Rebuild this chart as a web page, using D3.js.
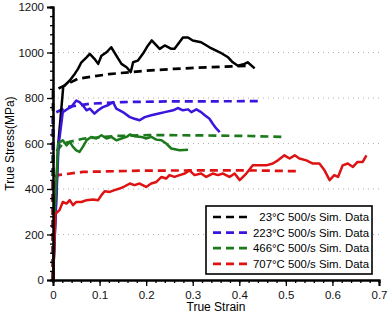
<!DOCTYPE html>
<html>
<head>
<meta charset="utf-8">
<script src="https://cdn.jsdelivr.net/npm/d3@7"></script>
<style>
  body { margin: 0; background: #fff; }
  text { font-family: "Liberation Sans", Arial, sans-serif; }
</style>
</head>
<body>
<svg id="chart"></svg>
<script>
// experimental curves [strain, stress]
const exp23 = [[0, 0], [0.011, 590], [0.022, 850], [0.025, 855], [0.036, 877], [0.047, 907], [0.054, 929], [0.061, 957], [0.072, 979], [0.079, 994], [0.089, 972], [0.097, 950], [0.104, 986], [0.115, 1001], [0.125, 1023], [0.136, 986], [0.147, 950], [0.158, 935], [0.167, 914], [0.172, 957], [0.182, 964], [0.193, 994], [0.204, 1031], [0.212, 1053], [0.229, 1016], [0.240, 1031], [0.254, 1016], [0.261, 1016], [0.279, 1066], [0.290, 1066], [0.300, 1053], [0.318, 1045], [0.336, 1023], [0.358, 1001], [0.376, 979], [0.386, 957], [0.397, 942], [0.411, 950], [0.418, 957], [0.433, 930]];
const exp223 = [[0, 0], [0.006, 300], [0.012, 592], [0.021, 738], [0.032, 753], [0.039, 760], [0.050, 789], [0.057, 782], [0.064, 768], [0.072, 746], [0.079, 753], [0.089, 731], [0.097, 746], [0.107, 760], [0.118, 768], [0.129, 782], [0.136, 753], [0.150, 738], [0.165, 716], [0.175, 709], [0.186, 702], [0.197, 716], [0.211, 724], [0.225, 731], [0.240, 738], [0.258, 746], [0.268, 756], [0.279, 746], [0.290, 750], [0.297, 738], [0.308, 750], [0.318, 738], [0.326, 724], [0.336, 709], [0.343, 687], [0.351, 665], [0.358, 650]];
const exp466 = [[0, 0], [0.004, 300], [0.011, 600], [0.021, 614], [0.029, 592], [0.036, 607], [0.043, 585], [0.050, 570], [0.057, 563], [0.064, 585], [0.072, 614], [0.082, 629], [0.093, 622], [0.104, 636], [0.115, 622], [0.125, 629], [0.136, 614], [0.147, 622], [0.158, 629], [0.165, 640], [0.175, 632], [0.190, 629], [0.200, 622], [0.211, 629], [0.222, 617], [0.233, 614], [0.243, 600], [0.254, 578], [0.272, 570], [0.290, 573]];
const exp707 = [[0, 0], [0.005, 290], [0.014, 307], [0.021, 343], [0.029, 336], [0.036, 351], [0.043, 329], [0.050, 343], [0.061, 343], [0.072, 351], [0.086, 354], [0.097, 351], [0.104, 373], [0.111, 390], [0.122, 387], [0.132, 395], [0.143, 402], [0.154, 412], [0.165, 424], [0.175, 417], [0.186, 424], [0.200, 409], [0.211, 424], [0.222, 431], [0.233, 453], [0.243, 446], [0.250, 461], [0.261, 453], [0.272, 461], [0.283, 468], [0.293, 482], [0.304, 461], [0.318, 468], [0.329, 453], [0.343, 468], [0.354, 461], [0.365, 468], [0.379, 453], [0.390, 468], [0.401, 439], [0.415, 468], [0.429, 504], [0.444, 504], [0.458, 504], [0.472, 512], [0.483, 526], [0.497, 548], [0.508, 534], [0.519, 548], [0.529, 534], [0.544, 526], [0.558, 512], [0.572, 512], [0.583, 482], [0.594, 439], [0.604, 461], [0.612, 453], [0.622, 504], [0.633, 512], [0.644, 497], [0.654, 519], [0.665, 519], [0.673, 548]];
// simulation curves [strain, stress]
const sim23 = [[0, 0], [0, 830], [0.02, 850], [0.054, 885], [0.12, 905], [0.2, 920], [0.26, 928], [0.33, 935], [0.42, 942]];
const sim223 = [[0, 0], [0, 720], [0.005, 735], [0.03, 760], [0.08, 775], [0.15, 782], [0.25, 785], [0.44, 786]];
const sim466 = [[0, 0], [0, 540], [0.004, 557], [0.021, 600], [0.064, 621], [0.136, 633], [0.207, 637], [0.3, 636], [0.422, 633], [0.494, 629]];
const sim707 = [[0, 0], [0, 450], [0.011, 461], [0.064, 475], [0.2, 481], [0.42, 482], [0.53, 478]];

const colors = ["#000000", "#3b14de", "#1c7a1c", "#de1212"];
const legendLabels = ["23°C 500/s Sim. Data", "223°C 500/s Sim. Data", "466°C 500/s Sim. Data", "707°C 500/s Sim. Data"];
const expSeries = [exp23, exp223, exp466, exp707];
const simSeries = [sim23, sim223, sim466, sim707];
const xTicks = [0, 0.1, 0.2, 0.3, 0.4, 0.5, 0.6, 0.7];
const yTicks = [0, 200, 400, 600, 800, 1000, 1200];
const gridValues = [200, 400, 600, 800, 1000];

const width = 388;
const height = 317;
const margin = { left: 53, right: 9, top: 7, bottom: 37 };

const svg = d3.select("#chart")
    .attr("width", width)
    .attr("height", height);

const x = d3.scaleLinear()
    .domain([0, 0.7])
    .range([margin.left, width - margin.right]);
const y = d3.scaleLinear()
    .domain([0, 1200])
    .range([height - margin.bottom, margin.top]);

// dotted grid
svg.append("g")
    .selectAll("line")
    .data(gridValues)
    .enter()
    .append("line")
    .attr("x1", x(0))
    .attr("x2", x(0.7))
    .attr("y1", d => y(d))
    .attr("y2", d => y(d))
    .attr("stroke", "#b0b0b0")
    .attr("stroke-width", 1)
    .attr("stroke-dasharray", "1,4");

const line = d3.line().x(d => x(d[0])).y(d => y(d[1]));

// simulation (dashed) lines
simSeries.forEach((s, i) => {
    svg.append("path")
        .datum(s)
        .attr("d", line)
        .attr("fill", "none")
        .attr("stroke", colors[i])
        .attr("stroke-width", 2.7)
        .attr("stroke-dasharray", "8,5");
});

// experimental (solid) lines
expSeries.forEach((s, i) => {
    svg.append("path")
        .datum(s)
        .attr("d", line)
        .attr("fill", "none")
        .attr("stroke", colors[i])
        .attr("stroke-width", 2.5)
        .attr("stroke-linejoin", "round");
});

// axes with minor ticks
const yMinor = d3.range(0, 1201, 40);
const xMinor = d3.range(0, 0.7001, 0.02);

const yAxisMinor = svg.append("g")
    .attr("transform", `translate(${x(0)},0)`)
    .call(d3.axisLeft(y).tickValues(yMinor).tickSize(3).tickFormat(""));
const yAxis = svg.append("g")
    .attr("transform", `translate(${x(0)},0)`)
    .call(d3.axisLeft(y).tickValues(yTicks).tickSize(6).tickPadding(3).tickFormat(d3.format("d")));
const xAxisMinor = svg.append("g")
    .attr("transform", `translate(0,${y(0)})`)
    .call(d3.axisBottom(x).tickValues(xMinor).tickSize(3).tickFormat(""));
const xAxis = svg.append("g")
    .attr("transform", `translate(0,${y(0)})`)
    .call(d3.axisBottom(x).tickValues(xTicks).tickSize(6).tickPadding(5).tickFormat(d => d === 0 ? "0" : d3.format(".1f")(d)));

[yAxisMinor, yAxis, xAxisMinor, xAxis].forEach(g => {
    g.select(".domain").attr("stroke", "#000").attr("stroke-width", 2);
    g.selectAll(".tick line").attr("stroke", "#000").attr("stroke-width", 1.3);
    g.selectAll("text")
        .attr("font-size", 11.5)
        .attr("fill", "#111")
        .style("font-family", "'Liberation Sans', Arial, sans-serif");
});

// axis labels
svg.append("text")
    .attr("x", (x(0) + x(0.7)) / 2)
    .attr("y", 311)
    .attr("text-anchor", "middle")
    .attr("font-size", 12)
    .text("True Strain");
svg.append("text")
    .attr("transform", `translate(14,${(y(0) + y(1200)) / 2}) rotate(-90)`)
    .attr("text-anchor", "middle")
    .attr("font-size", 12)
    .text("True Stress(MPa)");

// legend
const legend = svg.append("g").attr("transform", "translate(206,206)");
legend.append("rect")
    .attr("width", 166)
    .attr("height", 68)
    .attr("fill", "#fff")
    .attr("stroke", "#000")
    .attr("stroke-width", 1.6);
legendLabels.forEach((label, i) => {
    const rowY = 11 + i * 15.6;
    legend.append("line")
        .attr("x1", 7)
        .attr("x2", 42)
        .attr("y1", rowY)
        .attr("y2", rowY)
        .attr("stroke", colors[i])
        .attr("stroke-width", 2.7)
        .attr("stroke-dasharray", "8,5");
    legend.append("text")
        .attr("x", 163)
        .attr("y", rowY + 4.2)
        .attr("text-anchor", "end")
        .attr("font-size", 11.4)
        .text(label);
});
</script>
</body>
</html>
